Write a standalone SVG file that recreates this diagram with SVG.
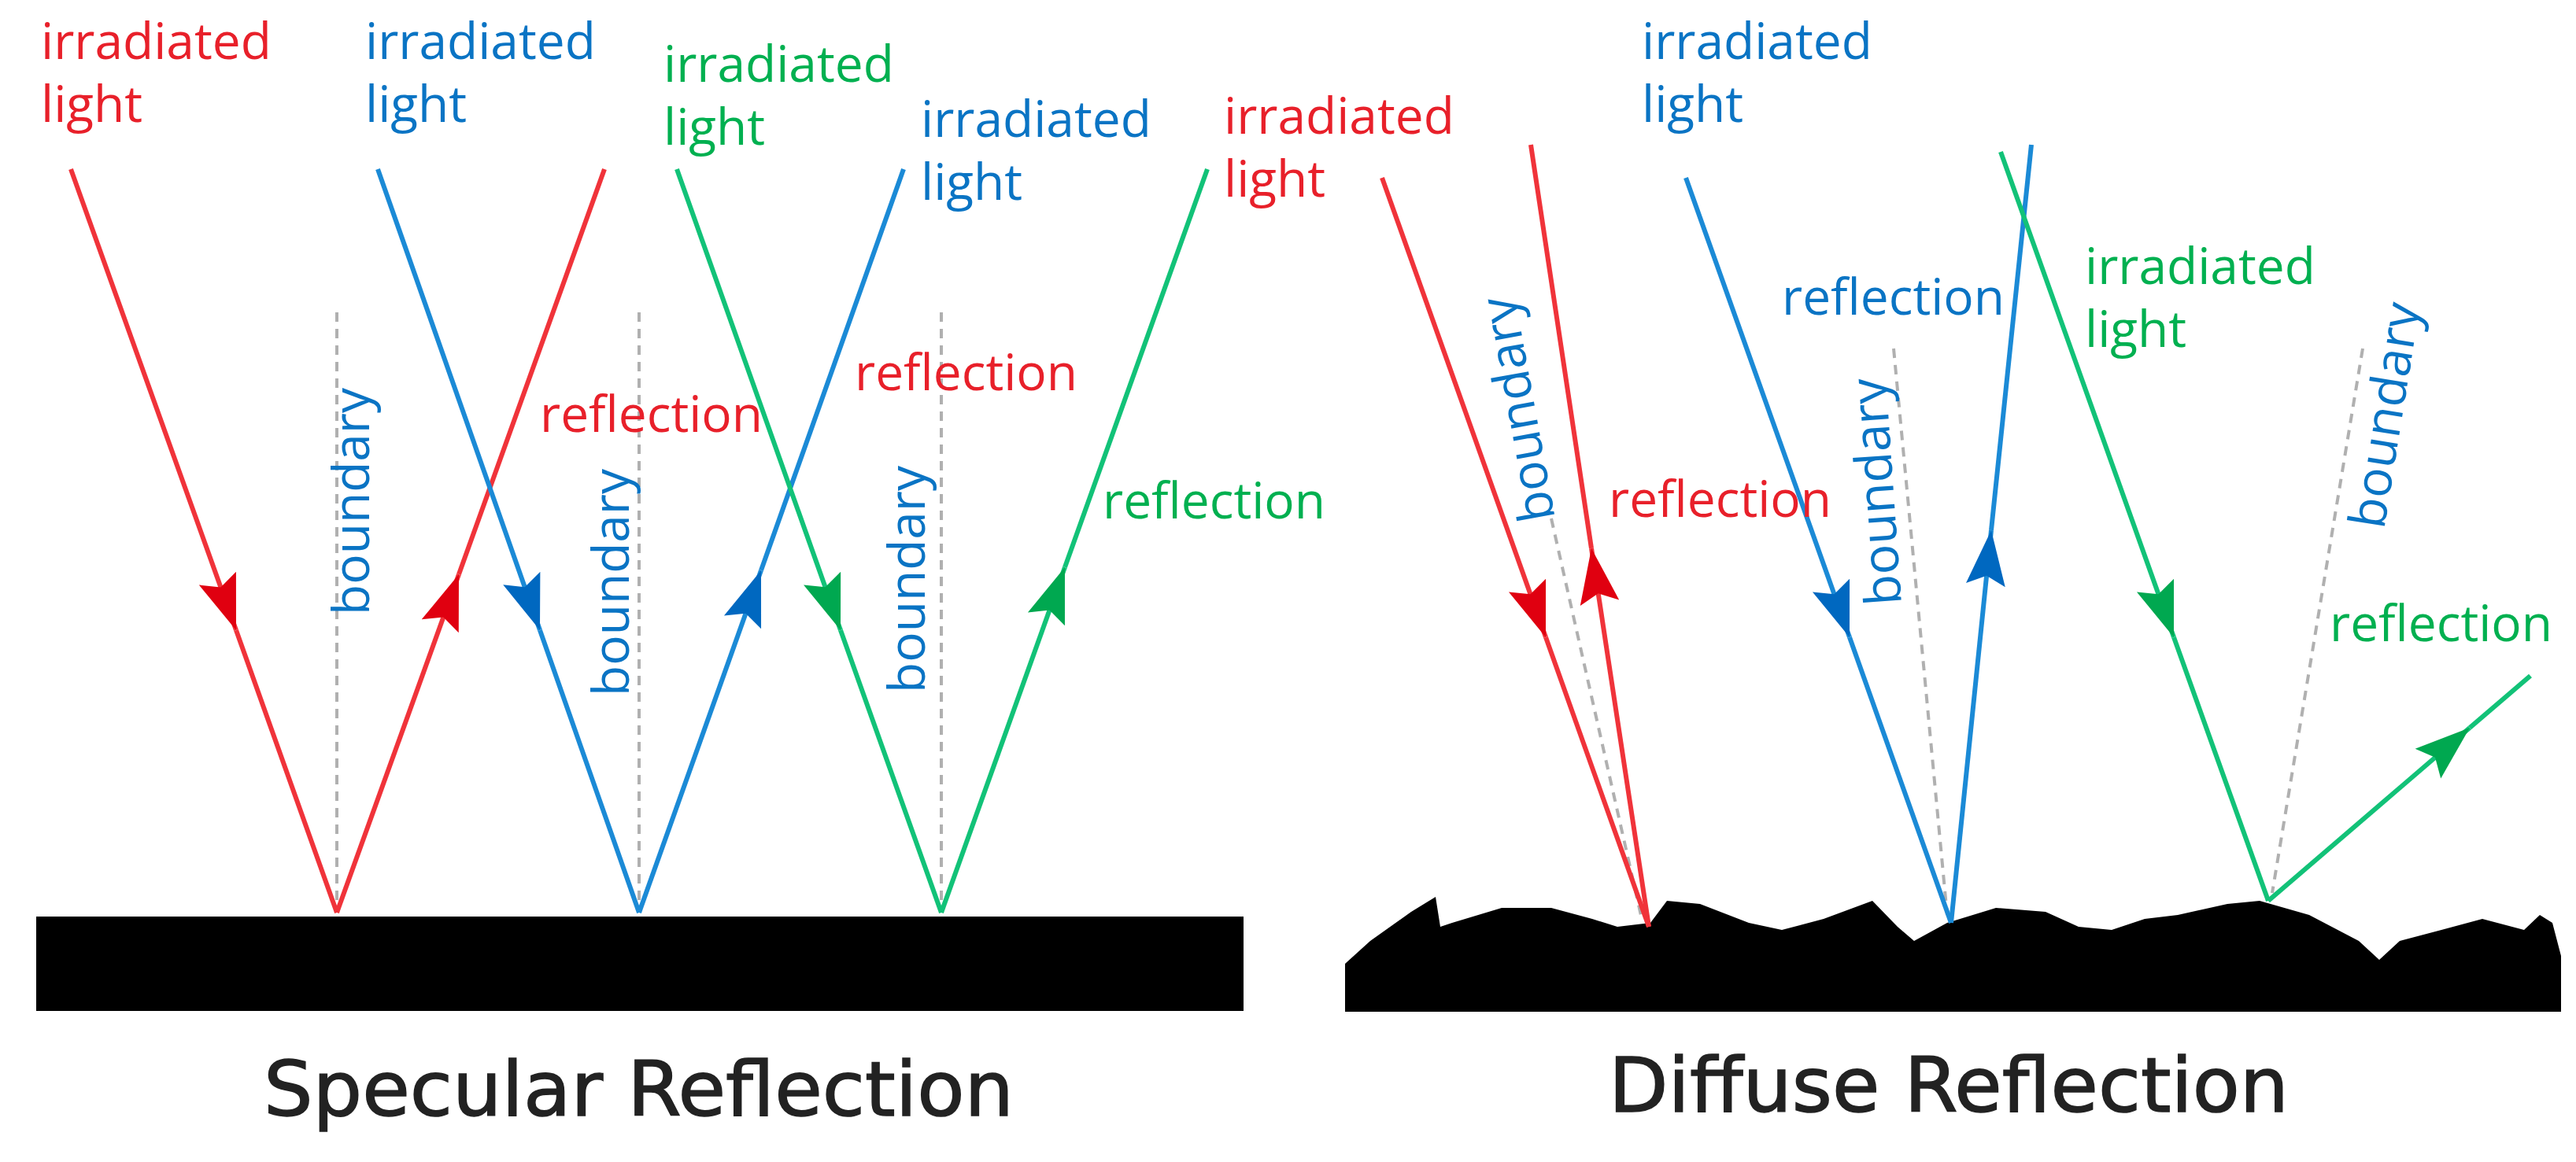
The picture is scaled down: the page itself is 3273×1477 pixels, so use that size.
<svg xmlns="http://www.w3.org/2000/svg" width="3273" height="1477" viewBox="0 0 3273 1477">
<style>
.t{font-family:"Open Sans","DejaVu Sans",sans-serif;font-size:64px}
.r{fill:#e8202a}.b{fill:#0a74c4}.g{fill:#00b050}
.lr{stroke:#f0333a;stroke-width:6;fill:none}
.lb{stroke:#1b8ad6;stroke-width:6;fill:none}
.lg{stroke:#12c278;stroke-width:6;fill:none}
.d{stroke:#b0b0b0;stroke-width:4;stroke-dasharray:12 9;fill:none}
.cap{font-family:"DejaVu Sans","Liberation Sans",sans-serif;font-size:96px;fill:#222;stroke:#222;stroke-width:1.5}
</style>
<defs>
<marker id="ar" markerUnits="userSpaceOnUse" markerWidth="80" markerHeight="60" refX="70" refY="25" orient="auto" viewBox="0 0 80 50"><path d="M0,0 L70,25 L0,50 L12,25 z" fill="#e00010"/></marker>
<marker id="ab" markerUnits="userSpaceOnUse" markerWidth="80" markerHeight="60" refX="70" refY="25" orient="auto" viewBox="0 0 80 50"><path d="M0,0 L70,25 L0,50 L12,25 z" fill="#0068c0"/></marker>
<marker id="ag" markerUnits="userSpaceOnUse" markerWidth="80" markerHeight="60" refX="70" refY="25" orient="auto" viewBox="0 0 80 50"><path d="M0,0 L70,25 L0,50 L12,25 z" fill="#00a850"/></marker>
</defs>
<rect width="3273" height="1477" fill="#fff"/>
<g id="surfaces">
<rect x="46" y="1165" width="1534" height="120" fill="#000"/>
<polygon fill="#000" points="1709,1225 1741,1196 1793,1159 1824,1140 1830,1178 1845,1173 1908,1154 1971,1154 2023,1168 2055,1178 2097,1173 2118,1145 2160,1149 2222,1173 2264,1182 2317,1168 2379,1145 2411,1178 2432,1196 2474,1173 2536,1154 2599,1159 2641,1178 2683,1182 2725,1168 2767,1163 2830,1149 2871,1145 2934,1163 2997,1196 3023,1220 3049,1196 3102,1182 3154,1168 3207,1182 3227,1163 3243,1173 3254,1215 3254,1286 1709,1286"/>
</g>
<g id="connectors">
<path class="d" d="M428,397 V1160 M812,397 V1160 M1196,397 V1160"/>
<path class="d" d="M1971,659 L2086,1168 M2406,443 L2474,1163 M3002,443 L2887,1135"/>
<path class="lr" d="M90,215 L300,801" marker-end="url(#ar)"/><path class="lr" d="M300,801 L428,1160"/>
<path class="lr" d="M428,1160 L583,730" marker-end="url(#ar)"/><path class="lr" d="M583,730 L768,215"/>
<path class="lb" d="M480,215 L686,801" marker-end="url(#ab)"/><path class="lb" d="M686,801 L812,1160"/>
<path class="lb" d="M812,1160 L967,725" marker-end="url(#ab)"/><path class="lb" d="M967,725 L1148,215"/>
<path class="lg" d="M860,215 L1068,801" marker-end="url(#ag)"/><path class="lg" d="M1068,801 L1196,1160"/>
<path class="lg" d="M1196,1160 L1353,721" marker-end="url(#ag)"/><path class="lg" d="M1353,721 L1534,215"/>
<path class="lr" d="M1756,226 L1964,810" marker-end="url(#ar)"/><path class="lr" d="M1964,810 L2095,1178"/>
<path class="lr" d="M2095,1178 L2022,697" marker-end="url(#ar)"/><path class="lr" d="M2022,697 L1945,184"/>
<path class="lb" d="M2142,226 L2350,810" marker-end="url(#ab)"/><path class="lb" d="M2350,810 L2479,1173"/>
<path class="lb" d="M2479,1173 L2530,674" marker-end="url(#ab)"/><path class="lb" d="M2530,674 L2581,184"/>
<path class="lg" d="M2542,193 L2762,810" marker-end="url(#ag)"/><path class="lg" d="M2762,810 L2882,1145"/>
<path class="lg" d="M2882,1145 L3138,925" marker-end="url(#ag)"/><path class="lg" d="M3138,925 L3215,859"/>
</g>
<g id="labels">
<text class="t r" x="52" y="75">irradiated</text><text class="t r" x="52" y="155">light</text>
<text class="t b" x="464" y="75">irradiated</text><text class="t b" x="464" y="155">light</text>
<text class="t g" x="843" y="104">irradiated</text><text class="t g" x="843" y="184">light</text>
<text class="t b" x="1170" y="174">irradiated</text><text class="t b" x="1170" y="254">light</text>
<text class="t r" x="1555" y="170">irradiated</text><text class="t r" x="1555" y="250">light</text>
<text class="t r" x="686" y="549">reflection</text>
<text class="t r" x="1086" y="496">reflection</text>
<text class="t g" x="1401" y="659">reflection</text>
<text class="t b" transform="translate(469,782) rotate(-90)">boundary</text>
<text class="t b" transform="translate(799,885) rotate(-90)">boundary</text>
<text class="t b" transform="translate(1175,881) rotate(-90)">boundary</text>
<text class="t b" x="2086" y="75">irradiated</text><text class="t b" x="2086" y="155">light</text>
<text class="t b" x="2264" y="400">reflection</text>
<text class="t r" x="2044" y="657">reflection</text>
<text class="t g" x="2649" y="361">irradiated</text><text class="t g" x="2649" y="441">light</text>
<text class="t g" x="2960" y="815">reflection</text>
<text class="t b" transform="translate(1976,659) rotate(-100.3)">boundary</text>
<text class="t b" transform="translate(2416,768) rotate(-94)">boundary</text>
<text class="t b" transform="translate(3029,674) rotate(-80.9)">boundary</text>
<text class="cap" x="335" y="1418" textLength="953" lengthAdjust="spacingAndGlyphs">Specular Reflection</text>
<text class="cap" x="2044" y="1413" textLength="864" lengthAdjust="spacingAndGlyphs">Diffuse Reflection</text>
</g>
</svg>
